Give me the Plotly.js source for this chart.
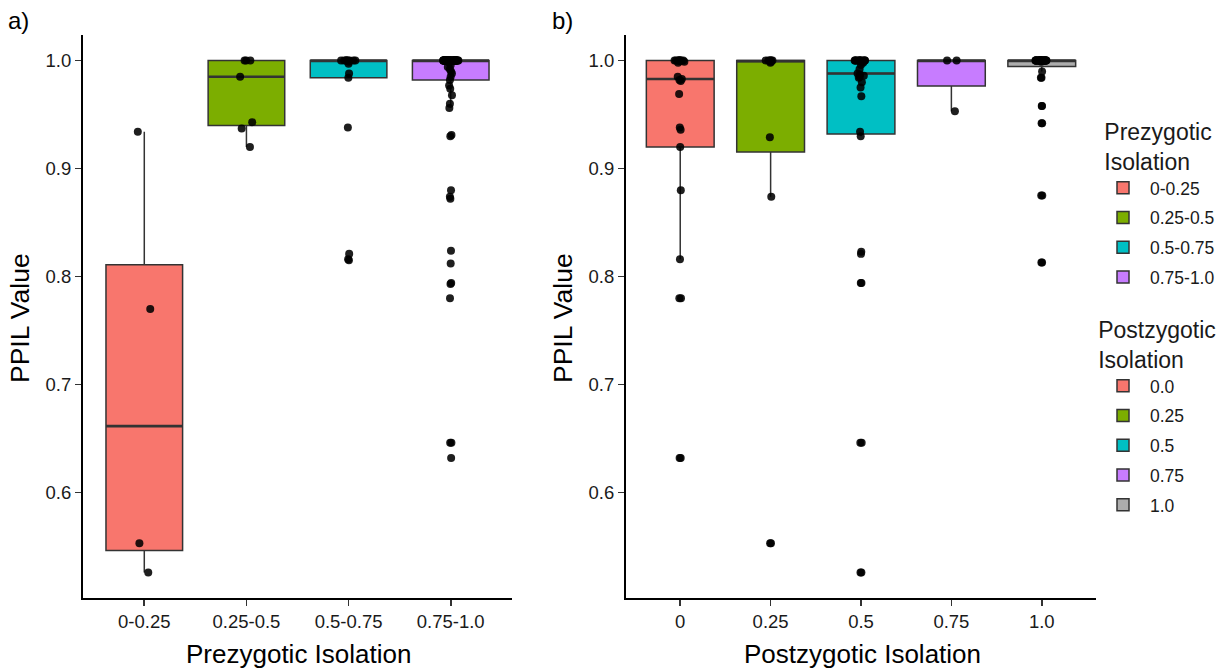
<!DOCTYPE html>
<html>
<head>
<meta charset="utf-8">
<script src="https://cdn.plot.ly/plotly-3.0.1.min.js"></script>
<style>html,body{margin:0;padding:0;background:#fff;}#chart{width:1226px;height:672px;}</style>
</head>
<body>
<div id="chart"></div>
<script>
// ---------- DATA ----------
// Panel a: grouped by prezygotic isolation
const preCategories = ["0-0.25", "0.25-0.5", "0.5-0.75", "0.75-1.0"];
const preA_0_025 = [0.934, 0.770, 0.553, 0.526];
const preA_025_05 = [1.0, 1.0, 1.0, 0.985, 0.943, 0.937, 0.920];
const preA_05_075 = [1, 1, 1, 1, 1, 1, 1, 1, 1, 0.999, 0.997, 0.988, 0.984, 0.938, 0.821, 0.816, 0.815];
const preA_075_1 = [0.632, 0.646, 0.646, 0.780, 0.793, 0.794, 0.812, 0.824, 0.872, 0.874, 0.880,
  0.930, 0.931, 0.956, 0.960, 0.968, 0.974, 0.977,
  0.982, 0.985, 0.988, 0.990, 0.992, 0.994, 0.996, 0.998,
  1, 1, 1, 1, 1, 1, 1, 1, 1, 1, 1, 1, 1, 1, 1, 1, 1, 1, 1, 1, 1, 1, 1, 1,
  1, 1, 1, 1, 1, 1, 1, 1, 1, 1, 1, 1, 1, 1, 1, 1, 1, 1, 1, 1, 1, 1, 1];

// Panel b: grouped by postzygotic isolation
const postCategories = ["0", "0.25", "0.5", "0.75", "1.0"];
const postLegendNames = ["0.0", "0.25", "0.5", "0.75", "1.0"];
const postB_0 = [0.632, 0.632, 0.780, 0.780, 0.816, 0.880, 0.920, 0.936, 0.938, 0.969, 0.981, 0.982, 0.983,
  0.985, 0.998, 0.999, 1, 1, 1, 1, 1, 1, 1, 1, 1];
const postB_025 = [0.553, 0.553, 0.874, 0.929, 0.998, 0.999, 1, 1, 1, 1, 1, 1];
const postB_05 = [0.526, 0.526, 0.646, 0.646, 0.794, 0.794, 0.821, 0.823, 0.930, 0.934,
  0.967, 0.975, 0.980, 0.984, 0.985, 0.986, 0.987, 0.988,
  0.992, 0.996, 0.998, 0.999, 1, 1, 1, 1, 1, 1, 1, 1, 1, 1, 1, 1, 1];
const postB_075 = [0.953, 1.0, 1.0];
const postB_1 = [0.813, 0.813, 0.875, 0.875, 0.942, 0.942, 0.958, 0.958, 0.984, 0.984, 0.990,
  0.999, 1, 1, 1, 1, 1, 1, 1, 1, 1, 1, 1, 1, 1, 1, 1, 1, 1, 1, 1, 1, 1, 1, 1, 1, 1, 1, 1, 1, 1, 1, 1];

const preGroups = [preA_0_025, preA_025_05, preA_05_075, preA_075_1];
const postGroups = [postB_0, postB_025, postB_05, postB_075, postB_1];

// ---------- STYLE ----------
const fillColors = ["#F8766D", "#7CAE00", "#00BFC4", "#C77CFF", "#ADADAD"];
const FONT = "Liberation Sans, Arial, Helvetica, sans-serif";

// R type-7 quantile + Tukey fences (as ggplot2 boxplot)
function q7(s, p) {
  const h = (s.length - 1) * p, lo = Math.floor(h), hi = Math.ceil(h);
  return s[lo] + (h - lo) * (s[hi] - s[lo]);
}
function stats(vals) {
  const s = vals.slice().sort((a, b) => a - b);
  const q1 = q7(s, 0.25), med = q7(s, 0.5), q3 = q7(s, 0.75);
  const iqr = q3 - q1;
  const lo = s.filter(v => v >= q1 - 1.5 * iqr);
  const hi = s.filter(v => v <= q3 + 1.5 * iqr);
  return {q1, med, q3, lf: Math.min(...lo), uf: Math.max(...hi)};
}

const traces = [];
const medianTraces = [];
const pointTraces = [];
function addPanel(cats, groups, names, xa, ya, legendId) {
  cats.forEach((c, i) => {
    const st = stats(groups[i]);
    traces.push({
      type: "box", xaxis: xa, yaxis: ya, name: names[i], legend: legendId,
      legendgroup: legendId + "_" + i,
      x: [c], q1: [st.q1], median: [st.med], q3: [st.q3],
      lowerfence: [st.lf], upperfence: [st.uf],
      boxpoints: false, width: 0.75, whiskerwidth: 0,
      fillcolor: fillColors[i], line: {color: "#333333", width: 1.5},
      hoverinfo: "skip"
    });
    // thicker median bar (ggplot draws the median heavier than the box outline)
    medianTraces.push({
      type: "box", xaxis: xa, yaxis: ya, showlegend: false,
      x: [c], q1: [st.med], median: [st.med], q3: [st.med],
      lowerfence: [st.med], upperfence: [st.med],
      boxpoints: false, width: 0.75, whiskerwidth: 0,
      fillcolor: "rgba(0,0,0,0)", line: {color: "#333333", width: 2.6},
      hoverinfo: "skip"
    });
    pointTraces.push({
      type: "box", xaxis: xa, yaxis: ya, showlegend: false,
      x: groups[i].map(() => c), y: groups[i],
      boxpoints: "all", jitter: 0.2, pointpos: 0, width: 0.75, whiskerwidth: 0,
      fillcolor: "rgba(0,0,0,0)", line: {color: "rgba(0,0,0,0)", width: 0},
      marker: {color: "rgba(0,0,0,0.88)", size: 8, line: {width: 0}},
      hoverinfo: "skip"
    });
  });
}
addPanel(preCategories, preGroups, preCategories, "x", "y", "legend");
addPanel(postCategories, postGroups, postLegendNames, "x2", "y2", "legend2");

const W = 1226, H = 672;
const px = v => v / W, py = v => 1 - v / H;

const axisCommon = {
  showline: true, linecolor: "#000", linewidth: 2, mirror: false,
  ticks: "outside", ticklen: 6, tickwidth: 1.6, tickcolor: "#333",
  showgrid: false, zeroline: false,
  tickfont: {family: FONT, size: 18.5, color: "#1a1a1a"}
};
const yRange = [0.5023, 1.0237];

const legendCommon = {
  xanchor: "left", yanchor: "top",
  font: {family: FONT, size: 17.5, color: "#1a1a1a"},
  bgcolor: "rgba(0,0,0,0)", tracegroupgap: 4, traceorder: "grouped",
  itemwidth: 44
};

const layout = {
  width: W, height: H,
  paper_bgcolor: "#fff", plot_bgcolor: "#fff",
  margin: {l: 0, r: 0, t: 0, b: 0},
  boxmode: "overlay",
  font: {family: FONT, color: "#1a1a1a"},
  xaxis: Object.assign({}, axisCommon, {
    domain: [px(83), px(512)], anchor: "y", type: "category",
    categoryorder: "array", categoryarray: preCategories, range: [-0.6, 3.6]
  }),
  yaxis: Object.assign({}, axisCommon, {
    domain: [py(598), py(35)], anchor: "x", range: yRange,
    tickvals: [0.6, 0.7, 0.8, 0.9, 1.0], ticktext: ["0.6", "0.7", "0.8", "0.9", "1.0"]
  }),
  xaxis2: Object.assign({}, axisCommon, {
    domain: [px(626), px(1096)], anchor: "y2", type: "category",
    categoryorder: "array", categoryarray: postCategories, range: [-0.6, 4.6]
  }),
  yaxis2: Object.assign({}, axisCommon, {
    domain: [py(598), py(35)], anchor: "x2", range: yRange,
    tickvals: [0.6, 0.7, 0.8, 0.9, 1.0], ticktext: ["0.6", "0.7", "0.8", "0.9", "1.0"]
  }),
  legend: Object.assign({}, legendCommon, {
    x: px(1096), y: py(110),
    title: {text: "Prezygotic<br>Isolation", side: "top center", font: {family: FONT, size: 23, color: "#1a1a1a"}}
  }),
  legend2: Object.assign({}, legendCommon, {
    x: px(1096), y: py(308),
    title: {text: "Postzygotic<br>Isolation", side: "top center", font: {family: FONT, size: 23, color: "#1a1a1a"}}
  }),
  annotations: [
    {text: "a)", xref: "paper", yref: "paper", x: px(6), y: py(20), xanchor: "left", yanchor: "middle", showarrow: false, font: {family: FONT, size: 24, color: "#000"}},
    {text: "b)", xref: "paper", yref: "paper", x: px(550), y: py(20), xanchor: "left", yanchor: "middle", showarrow: false, font: {family: FONT, size: 24, color: "#000"}},
    {text: "PPIL Value", xref: "paper", yref: "paper", x: px(20), y: py(318), textangle: -90, xanchor: "center", yanchor: "middle", showarrow: false, font: {family: FONT, size: 26.5, color: "#000"}},
    {text: "PPIL Value", xref: "paper", yref: "paper", x: px(563), y: py(318), textangle: -90, xanchor: "center", yanchor: "middle", showarrow: false, font: {family: FONT, size: 26.5, color: "#000"}},
    {text: "Prezygotic Isolation", xref: "paper", yref: "paper", x: px(298), y: py(671), xanchor: "center", yanchor: "bottom", showarrow: false, font: {family: FONT, size: 26, color: "#000"}},
    {text: "Postzygotic Isolation", xref: "paper", yref: "paper", x: px(862), y: py(671), xanchor: "center", yanchor: "bottom", showarrow: false, font: {family: FONT, size: 26, color: "#000"}}
  ]
};

Plotly.newPlot("chart", traces.concat(medianTraces, pointTraces), layout, {staticPlot: true, displayModeBar: false});
</script>
</body>
</html>
